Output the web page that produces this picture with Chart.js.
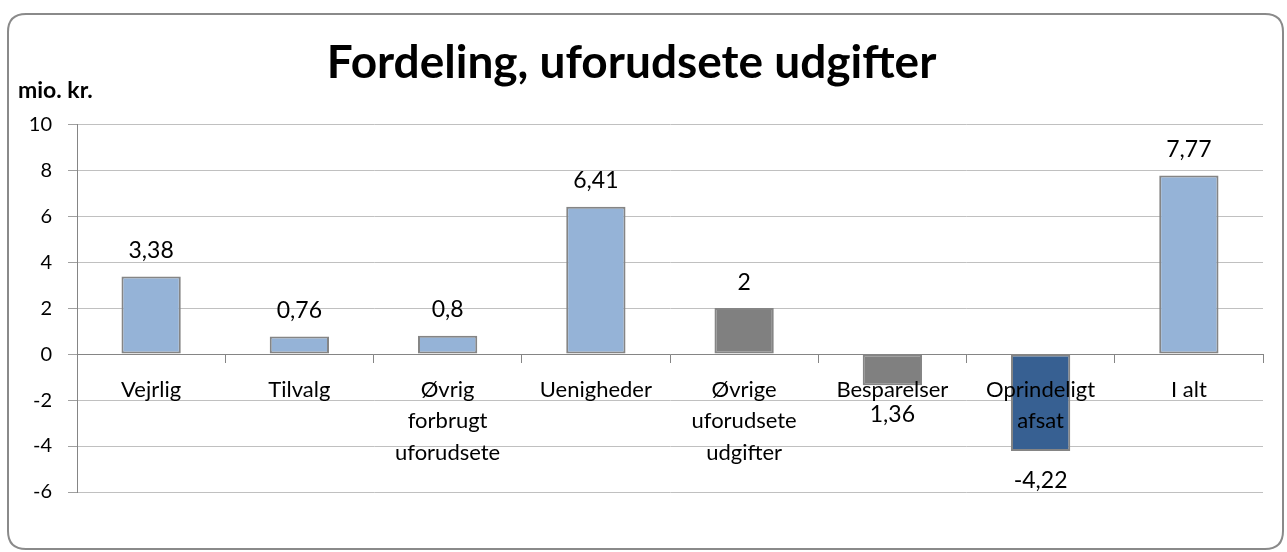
<!DOCTYPE html>
<html lang="da">
<head>
<meta charset="utf-8">
<title>Fordeling, uforudsete udgifter</title>
<script src="https://cdn.jsdelivr.net/npm/chart.js@4/dist/chart.umd.min.js"></script>
<style>
  html, body { margin: 0; padding: 0; background: #fff; }
  #wrap { width: 1287px; height: 552px; position: relative; }
</style>
</head>
<body>
<div id="wrap"><canvas id="udgiftChart"></canvas></div>
<script>
// Categories (multi-line ones as arrays)
const categories = [
  "Vejrlig",
  "Tilvalg",
  ["Øvrig", "forbrugt", "uforudsete"],
  "Uenigheder",
  ["Øvrige", "uforudsete", "udgifter"],
  "Besparelser",
  ["Oprindeligt", "afsat"],
  "I alt",
];

// mio. kr.
const values = [3.38, 0.76, 0.8, 6.41, 2, -1.36, -4.22, 7.77];

// Label text as shown on the original (minus on Besparelser is not shown there)
const valueText = ["3,38", "0,76", "0,8", "6,41", "2", "1,36", "-4,22", "7,77"];

const barColors = [
  "#95b3d7", "#95b3d7", "#95b3d7", "#95b3d7",
  "#808080", "#808080", "#376092", "#95b3d7",
];

const yMin = -6;
const yMax = 10;
const yStep = 2;

const FONT = "Lato, 'Open Sans', sans-serif";

// white page + rounded grey frame
const framePlugin = {
  id: "frame",
  beforeDraw(chart) {
    const c = chart.ctx;
    c.save();
    c.fillStyle = "#fff";
    c.fillRect(0, 0, chart.width, chart.height);
    const x = 8, y = 14, w = 1275, h = 535, r = 18;
    c.beginPath();
    c.moveTo(x + r, y);
    c.lineTo(x + w - r, y);
    c.quadraticCurveTo(x + w, y, x + w, y + r);
    c.lineTo(x + w, y + h - r);
    c.quadraticCurveTo(x + w, y + h, x + w - r, y + h);
    c.lineTo(x + r, y + h);
    c.quadraticCurveTo(x, y + h, x, y + h - r);
    c.lineTo(x, y + r);
    c.quadraticCurveTo(x, y, x + r, y);
    c.closePath();
    c.strokeStyle = "#8a8a8a";
    c.lineWidth = 2;
    c.stroke();
    c.restore();
  },
};

// "mio. kr." unit text above the y axis
const unitPlugin = {
  id: "unitLabel",
  afterDraw(chart) {
    const c = chart.ctx;
    c.save();
    c.font = "bold 23px " + FONT;
    c.fillStyle = "#000";
    c.textAlign = "left";
    c.textBaseline = "middle";
    c.fillText("mio. kr.", 18, 91);
    c.restore();
  },
};

// value labels over / under the bars
const valueLabelPlugin = {
  id: "valueLabels",
  afterDatasetsDraw(chart) {
    const c = chart.ctx;
    const meta = chart.getDatasetMeta(0);
    c.save();
    c.font = "23px " + FONT;
    c.fillStyle = "#000";
    c.textAlign = "center";
    c.textBaseline = "middle";
    meta.data.forEach((bar, i) => {
      const v = values[i];
      const y = v >= 0 ? bar.y - 26 : bar.y + 29;
      c.fillText(valueText[i], bar.x, y);
    });
    c.restore();
  },
};

function initChart() {
  const ctx = document.getElementById("udgiftChart");

  new Chart(ctx, {
    type: "bar",
    data: {
      labels: categories,
      datasets: [
        {
          data: values,
          backgroundColor: barColors,
          borderColor: "#858585",
          borderWidth: 2,
          borderSkipped: false,
          barPercentage: 0.4,
          categoryPercentage: 1,
        },
      ],
    },
    options: {
      responsive: true,
      maintainAspectRatio: false,
      animation: false,
      layout: {
        padding: { top: 0, left: 0, right: 24, bottom: 60 },
      },
      plugins: {
        legend: { display: false },
        tooltip: { enabled: false },
        title: {
          display: true,
          text: "Fordeling, uforudsete udgifter",
          color: "#000",
          font: { family: FONT, size: 46, weight: "bold" },
          padding: { top: 36, bottom: 33 },
        },
      },
      scales: {
        x: {
          position: { y: 0 },
          grid: {
            drawOnChartArea: false,
            drawTicks: true,
            tickLength: 8,
            tickColor: "#858585",
          },
          border: { color: "#858585", width: 1, z: 1 },
          ticks: {
            z: 1,
            color: "#000",
            padding: 12,
            maxRotation: 0,
            autoSkip: false,
            font: { family: FONT, size: 22, lineHeight: 1.43 },
          },
        },
        y: {
          min: yMin,
          max: yMax,
          grid: {
            color: "#c0c0c0",
            tickLength: 9,
            tickColor: "#a0a0a0",
          },
          border: { color: "#858585", width: 1 },
          ticks: {
            stepSize: yStep,
            color: "#000",
            padding: 16,
            font: { family: FONT, size: 20 },
          },
          afterFit(scale) {
            scale.width = 77;
          },
        },
      },
    },
    plugins: [framePlugin, unitPlugin, valueLabelPlugin],
  });
}

document.addEventListener("DOMContentLoaded", initChart);
</script>
</body>
</html>
